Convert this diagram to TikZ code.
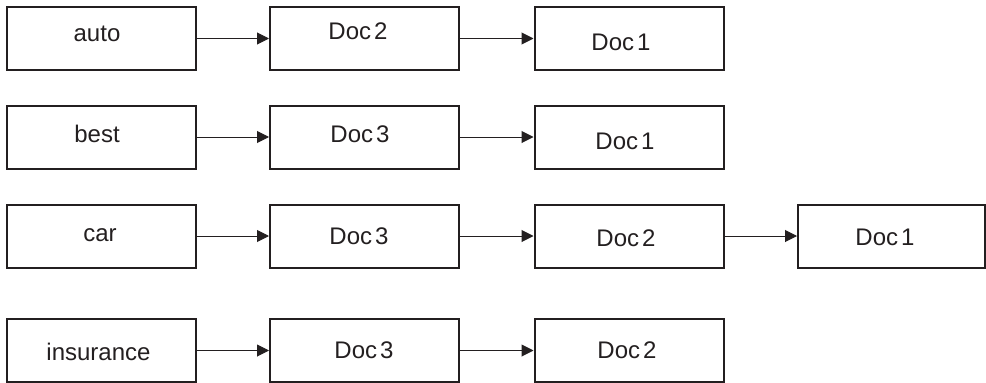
\documentclass[tikz,border=0pt]{standalone}
\usepackage{fontspec}
\setmainfont{Liberation Sans}
\usetikzlibrary{arrows.meta}
\definecolor{ink}{HTML}{231F20}
\tikzset{
  box/.style={draw=ink, line width=2pt, rectangle, minimum width=189pt, minimum height=63pt, inner sep=0pt},
  lbl/.style={inner sep=0pt, text=ink, font=\fontsize{24}{28}\selectfont},
  conn/.style={draw=ink, line width=1pt, -{Triangle[length=12pt,width=12pt]}, shorten >=0pt}
}
\newcommand{\dc}[1]{Doc\hspace{3pt}#1}
\begin{document}
\begin{tikzpicture}[x=1pt,y=-1pt]
\useasboundingbox (0,0) rectangle (986,383);
% row 1
\node[box] (a1) at (101,38.5) {};
\node[box] (a2) at (364.5,38.5) {};
\node[box] (a3) at (629,38.5) {};
\node[lbl] (a1t) at (97,33.5) {auto};
\node[lbl] (a2t) at (358,31.5) {\dc{2}};
\node[lbl] (a3t) at (621,42) {\dc{1}};
\draw[conn] (a1) -- (a2);
\draw[conn] (a2) -- (a3);
% row 2
\node[box] (b1) at (101,137) {};
\node[box] (b2) at (364.5,137) {};
\node[box] (b3) at (629,137) {};
\node[lbl] (b1t) at (97,133.5) {best};
\node[lbl] (b2t) at (360,134) {\dc{3}};
\node[lbl] (b3t) at (625,141) {\dc{1}};
\draw[conn] (b1) -- (b2);
\draw[conn] (b2) -- (b3);
% row 3
\node[box] (c1) at (101,236) {};
\node[box] (c2) at (364.5,236) {};
\node[box] (c3) at (629,236) {};
\node[box, minimum width=187pt] (c4) at (891.5,236) {};
\node[lbl] (c1t) at (100,235.5) {car};
\node[lbl] (c2t) at (359,236.5) {\dc{3}};
\node[lbl] (c3t) at (626,238) {\dc{2}};
\node[lbl] (c4t) at (885,237) {\dc{1}};
\draw[conn] (c1) -- (c2);
\draw[conn] (c2) -- (c3);
\draw[conn] (c3) -- (c4);
% row 4
\node[box] (d1) at (101,350.5) {};
\node[box] (d2) at (364.5,350.5) {};
\node[box] (d3) at (629,350.5) {};
\node[lbl] (d1t) at (98.5,351.5) {insurance};
\node[lbl] (d2t) at (364,350.5) {\dc{3}};
\node[lbl] (d3t) at (627,350.5) {\dc{2}};
\draw[conn] (d1) -- (d2);
\draw[conn] (d2) -- (d3);
\end{tikzpicture}
\end{document}
